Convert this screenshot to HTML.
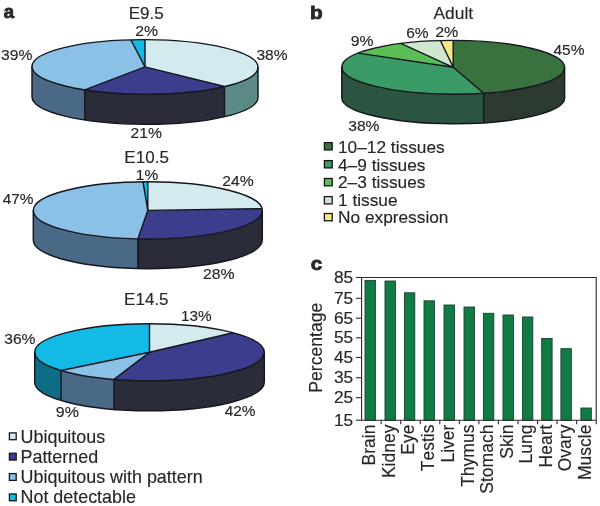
<!DOCTYPE html>
<html><head><meta charset="utf-8"><style>
html,body{margin:0;padding:0;background:#fff;}
svg{display:block;filter:blur(0.3px);}
text{font-family:"Liberation Sans", sans-serif;font-kerning:none;fill:#262626;stroke:#2a2a2a;stroke-width:0.15px;}
</style></head><body>
<svg width="600" height="506" viewBox="0 0 600 506">
<rect width="600" height="506" fill="#fff"/>
<text transform="translate(3.65 17.97) scale(1.0178 1)" font-size="18.17" font-weight="bold" style="stroke-width:0.88px">a</text>
<text transform="translate(128.7 18.84) scale(1.0339 1)" font-size="16.47">E9.5</text>
<g transform="matrix(1 0.00300 0 1 0 -0.43)"><path d="M258 66.9 A113 27.3 0 0 1 224.48 86.3 L224.48 116.5 A113 27.3 0 0 0 258 97.1Z" fill="#5b8a87"/>
<path d="M224.48 86.3 A113 27.3 0 0 1 84.78 90 L84.78 120.2 A113 27.3 0 0 0 224.48 116.5Z" fill="#2b2c3a"/>
<path d="M84.78 90 A113 27.3 0 0 1 32 66.9 L32 97.1 A113 27.3 0 0 0 84.78 120.2Z" fill="#4a6987"/>
<path d="M145 66.9 L145 39.6 A113 27.3 0 0 1 224.48 86.3Z" fill="#d3ebef"/>
<path d="M145 66.9 L224.48 86.3 A113 27.3 0 0 1 84.78 90Z" fill="#3c3d8d"/>
<path d="M145 66.9 L84.78 90 A113 27.3 0 0 1 130.84 39.82Z" fill="#8bc0e7"/>
<path d="M145 66.9 L130.84 39.82 A113 27.3 0 0 1 145 39.6Z" fill="#14bae6"/>
<g fill="none" stroke="#15161e" stroke-width="1.45" stroke-linejoin="round"><ellipse cx="145" cy="66.9" rx="113" ry="27.3"/><path d="M32 66.9 L32 97.1 A113 27.3 0 0 0 258 97.1 L258 66.9"/><line x1="145" y1="66.9" x2="145" y2="39.6"/><line x1="145" y1="66.9" x2="224.48" y2="86.3"/><line x1="224.48" y1="86.3" x2="224.48" y2="116.5"/><line x1="145" y1="66.9" x2="84.78" y2="90"/><line x1="84.78" y1="90" x2="84.78" y2="120.2"/><line x1="145" y1="66.9" x2="130.84" y2="39.82"/></g></g>
<text transform="translate(135.21 35.92) scale(1.0302 1)" font-size="15.3">2%</text>
<text transform="translate(256.42 59.55) scale(1.0243 1)" font-size="15.19">38%</text>
<text transform="translate(1.11 59.55) scale(1.0312 1)" font-size="15.19">39%</text>
<text transform="translate(130.47 138.12) scale(1.0237 1)" font-size="15.3">21%</text>
<text transform="translate(124.29 162.74) scale(1.0365 1)" font-size="16.47">E10.5</text>
<path d="M262.3 210.4 A114.5 28.6 0 0 1 137.82 238.89 L137.82 268.59 A114.5 28.6 0 0 0 262.3 240.1Z" fill="#2b2c3a"/>
<path d="M137.82 238.89 A114.5 28.6 0 0 1 33.3 210.4 L33.3 240.1 A114.5 28.6 0 0 0 137.82 268.59Z" fill="#4a6987"/>
<path d="M147.8 210.4 L147.8 181.8 A114.5 28.6 0 0 1 262.07 208.6Z" fill="#d3ebef"/>
<path d="M147.8 210.4 L262.07 208.6 A114.5 28.6 0 0 1 137.82 238.89Z" fill="#3c3d8d"/>
<path d="M147.8 210.4 L137.82 238.89 A114.5 28.6 0 0 1 143.01 181.83Z" fill="#8bc0e7"/>
<path d="M147.8 210.4 L143.01 181.83 A114.5 28.6 0 0 1 147.8 181.8Z" fill="#14bae6"/>
<g fill="none" stroke="#15161e" stroke-width="1.45" stroke-linejoin="round"><ellipse cx="147.8" cy="210.4" rx="114.5" ry="28.6"/><path d="M33.3 210.4 L33.3 240.1 A114.5 28.6 0 0 0 262.3 240.1 L262.3 210.4"/><line x1="147.8" y1="210.4" x2="147.8" y2="181.8"/><line x1="147.8" y1="210.4" x2="262.07" y2="208.6"/><line x1="147.8" y1="210.4" x2="137.82" y2="238.89"/><line x1="137.82" y1="238.89" x2="137.82" y2="268.59"/><line x1="147.8" y1="210.4" x2="143.01" y2="181.83"/></g>
<text transform="translate(135.84 179.62) scale(1.0067 1)" font-size="15.36">1%</text>
<text transform="translate(222.21 185.72) scale(1.0306 1)" font-size="15.3">24%</text>
<text transform="translate(2.65 203.62) scale(1.0057 1)" font-size="15.36">47%</text>
<text transform="translate(203.01 278.65) scale(1.0379 1)" font-size="15.19">28%</text>
<text transform="translate(124.1 305.43) scale(1.0195 1)" font-size="16.7">E14.5</text>
<path d="M264.3 352.3 A114.8 28.5 0 0 1 114.02 379.41 L114.02 409.41 A114.8 28.5 0 0 0 264.3 382.3Z" fill="#2b2c3a"/>
<path d="M114.02 379.41 A114.8 28.5 0 0 1 61.05 370.47 L61.05 400.47 A114.8 28.5 0 0 0 114.02 409.41Z" fill="#4a6987"/>
<path d="M61.05 370.47 A114.8 28.5 0 0 1 34.7 352.3 L34.7 382.3 A114.8 28.5 0 0 0 61.05 400.47Z" fill="#0d6d86"/>
<path d="M149.5 352.3 L149.5 323.8 A114.8 28.5 0 0 1 233.19 332.79Z" fill="#d3ebef"/>
<path d="M149.5 352.3 L233.19 332.79 A114.8 28.5 0 0 1 114.02 379.41Z" fill="#3c3d8d"/>
<path d="M149.5 352.3 L114.02 379.41 A114.8 28.5 0 0 1 61.05 370.47Z" fill="#8bc0e7"/>
<path d="M149.5 352.3 L61.05 370.47 A114.8 28.5 0 0 1 149.5 323.8Z" fill="#14bae6"/>
<g fill="none" stroke="#15161e" stroke-width="1.45" stroke-linejoin="round"><ellipse cx="149.5" cy="352.3" rx="114.8" ry="28.5"/><path d="M34.7 352.3 L34.7 382.3 A114.8 28.5 0 0 0 264.3 382.3 L264.3 352.3"/><line x1="149.5" y1="352.3" x2="149.5" y2="323.8"/><line x1="149.5" y1="352.3" x2="233.19" y2="332.79"/><line x1="149.5" y1="352.3" x2="114.02" y2="379.41"/><line x1="114.02" y1="379.41" x2="114.02" y2="409.41"/><line x1="149.5" y1="352.3" x2="61.05" y2="370.47"/><line x1="61.05" y1="370.47" x2="61.05" y2="400.47"/></g>
<text transform="translate(181.05 320.85) scale(1.0098 1)" font-size="15.19">13%</text>
<text transform="translate(4.21 344.35) scale(1.0312 1)" font-size="15.19">36%</text>
<text transform="translate(55.74 417.35) scale(1.0550 1)" font-size="15.19">9%</text>
<text transform="translate(224.65 415.72) scale(1.0092 1)" font-size="15.3">42%</text>
<rect x="9.4" y="432.9" width="6.8" height="6.8" fill="#d3ebef" stroke="#15161e" stroke-width="1.3"/>
<text x="20.61" y="443.4" font-size="17.9">Ubiquitous</text>
<rect x="9.4" y="453.25" width="6.8" height="6.8" fill="#3c3d8d" stroke="#15161e" stroke-width="1.3"/>
<text x="20.52" y="463.1" font-size="17.9">Patterned</text>
<rect x="9.4" y="473.6" width="6.8" height="6.8" fill="#8bc0e7" stroke="#15161e" stroke-width="1.3"/>
<text x="20.61" y="482.8" font-size="17.9">Ubiquitous with pattern</text>
<rect x="9.4" y="493.95" width="6.8" height="6.8" fill="#14bae6" stroke="#15161e" stroke-width="1.3"/>
<text x="20.52" y="502.5" font-size="17.9">Not detectable</text>
<text transform="translate(309.9 19.17) scale(1.1847 1)" font-size="17.55" font-weight="bold" style="stroke-width:0.76px">b</text>
<text x="433.46" y="19" font-size="17.4">Adult</text>
<g transform="matrix(1 0.00200 0 1 0 -0.91)"><path d="M564.6 67.3 A111.4 26.9 0 0 1 483.72 93.17 L483.72 122.81 A111.4 25.9 0 0 0 564.6 97.9Z" fill="#2c3a30"/>
<path d="M483.72 93.17 A111.4 26.9 0 0 1 341.8 67.3 L341.8 97.9 A111.4 25.9 0 0 0 483.72 122.81Z" fill="#2b5540"/>
<path d="M453.2 67.3 L453.2 40.4 A111.4 26.9 0 0 1 483.72 93.17Z" fill="#39723e"/>
<path d="M453.2 67.3 L483.72 93.17 A111.4 26.9 0 0 1 358.01 53.32Z" fill="#3a9b67"/>
<path d="M453.2 67.3 L358.01 53.32 A111.4 26.9 0 0 1 400.73 43.57Z" fill="#5cbc55"/>
<path d="M453.2 67.3 L400.73 43.57 A111.4 26.9 0 0 1 440.4 40.58Z" fill="#cfe7cc"/>
<path d="M453.2 67.3 L440.4 40.58 A111.4 26.9 0 0 1 453.2 40.4Z" fill="#f4e887"/>
<g fill="none" stroke="#15161e" stroke-width="1.45" stroke-linejoin="round"><ellipse cx="453.2" cy="67.3" rx="111.4" ry="26.9"/><path d="M341.8 67.3 L341.8 97.9 A111.4 25.9 0 0 0 564.6 97.9 L564.6 67.3"/><line x1="453.2" y1="67.3" x2="453.2" y2="40.4"/><line x1="453.2" y1="67.3" x2="483.72" y2="93.17"/><line x1="483.72" y1="93.17" x2="483.72" y2="122.81"/><line x1="453.2" y1="67.3" x2="358.01" y2="53.32"/><line x1="453.2" y1="67.3" x2="400.73" y2="43.57"/><line x1="453.2" y1="67.3" x2="440.4" y2="40.58"/></g></g>
<text transform="translate(435.2 36.92) scale(1.0494 1)" font-size="15.3">2%</text>
<text transform="translate(406.23 37.85) scale(1.0181 1)" font-size="15.19">6%</text>
<text transform="translate(350.85 45.85) scale(1.0356 1)" font-size="15.19">9%</text>
<text transform="translate(553.45 55.35) scale(1.0196 1)" font-size="15.25">45%</text>
<text transform="translate(348.21 131.35) scale(1.0312 1)" font-size="15.19">38%</text>
<rect x="324.4" y="142.6" width="7.8" height="7.3" fill="#39723e" stroke="#15161e" stroke-width="1.3"/>
<text x="338" y="153.4" font-size="17.3">10–12 tissues</text>
<rect x="324.4" y="160.6" width="7.8" height="7.3" fill="#3a9b67" stroke="#15161e" stroke-width="1.3"/>
<text x="338" y="170.9" font-size="17.3">4–9 tissues</text>
<rect x="324.4" y="178.5" width="7.8" height="7.3" fill="#5cbc55" stroke="#15161e" stroke-width="1.3"/>
<text x="338" y="188.4" font-size="17.3">2–3 tissues</text>
<rect x="324.4" y="196.6" width="7.8" height="7.3" fill="#cfe7cc" stroke="#15161e" stroke-width="1.3"/>
<text x="338" y="205.6" font-size="17.3">1 tissue</text>
<rect x="324.4" y="213.5" width="7.8" height="7.3" fill="#f4e887" stroke="#15161e" stroke-width="1.3"/>
<text x="338" y="222.7" font-size="17.3">No expression</text>
<text transform="translate(310.87 269.61) scale(1.0959 1)" font-size="18.9" font-weight="bold" style="stroke-width:0.82px">c</text>
<text x="333.89" y="282.8" font-size="17.3">85</text>
<text x="333.89" y="303.6" font-size="17.3">75</text>
<text x="333.89" y="323.5" font-size="17.3">65</text>
<text x="333.89" y="343.1" font-size="17.3">55</text>
<text x="333.89" y="362.8" font-size="17.3">45</text>
<text x="333.89" y="383" font-size="17.3">35</text>
<text x="333.89" y="403" font-size="17.3">25</text>
<text x="333.89" y="425.5" font-size="17.3">15</text>
<rect x="365" y="280.4" width="10.4" height="139.9" fill="#0e7c44" stroke="#1b3d2a" stroke-width="0.9"/>
<rect x="385" y="281" width="10.4" height="139.3" fill="#0e7c44" stroke="#1b3d2a" stroke-width="0.9"/>
<rect x="404.4" y="292.8" width="10.4" height="127.5" fill="#0e7c44" stroke="#1b3d2a" stroke-width="0.9"/>
<rect x="424" y="300.8" width="10.4" height="119.5" fill="#0e7c44" stroke="#1b3d2a" stroke-width="0.9"/>
<rect x="444" y="305" width="10.4" height="115.3" fill="#0e7c44" stroke="#1b3d2a" stroke-width="0.9"/>
<rect x="464" y="307" width="10.4" height="113.3" fill="#0e7c44" stroke="#1b3d2a" stroke-width="0.9"/>
<rect x="483.4" y="313.3" width="10.4" height="107" fill="#0e7c44" stroke="#1b3d2a" stroke-width="0.9"/>
<rect x="503" y="315" width="10.4" height="105.3" fill="#0e7c44" stroke="#1b3d2a" stroke-width="0.9"/>
<rect x="522.4" y="317" width="10.4" height="103.3" fill="#0e7c44" stroke="#1b3d2a" stroke-width="0.9"/>
<rect x="541.7" y="338.5" width="10.4" height="81.8" fill="#0e7c44" stroke="#1b3d2a" stroke-width="0.9"/>
<rect x="560.9" y="348.7" width="10.4" height="71.6" fill="#0e7c44" stroke="#1b3d2a" stroke-width="0.9"/>
<rect x="580.9" y="408" width="10.4" height="12.3" fill="#0e7c44" stroke="#1b3d2a" stroke-width="0.9"/>
<g fill="none" stroke="#2a2a2a" stroke-width="1.1"><path d="M361.6 277.5 H596.2 V420.3 H361.6 Z"/><line x1="356" y1="277.5" x2="361.6" y2="277.5"/><line x1="356" y1="298.3" x2="361.6" y2="298.3"/><line x1="356" y1="318.2" x2="361.6" y2="318.2"/><line x1="356" y1="337.8" x2="361.6" y2="337.8"/><line x1="356" y1="357.5" x2="361.6" y2="357.5"/><line x1="356" y1="377.7" x2="361.6" y2="377.7"/><line x1="356" y1="397.7" x2="361.6" y2="397.7"/><line x1="356" y1="420.2" x2="361.6" y2="420.2"/><line x1="381.15" y1="420.3" x2="381.15" y2="424.3"/><line x1="400.7" y1="420.3" x2="400.7" y2="424.3"/><line x1="420.25" y1="420.3" x2="420.25" y2="424.3"/><line x1="439.8" y1="420.3" x2="439.8" y2="424.3"/><line x1="459.35" y1="420.3" x2="459.35" y2="424.3"/><line x1="478.9" y1="420.3" x2="478.9" y2="424.3"/><line x1="498.45" y1="420.3" x2="498.45" y2="424.3"/><line x1="518" y1="420.3" x2="518" y2="424.3"/><line x1="537.55" y1="420.3" x2="537.55" y2="424.3"/><line x1="557.1" y1="420.3" x2="557.1" y2="424.3"/><line x1="576.65" y1="420.3" x2="576.65" y2="424.3"/><line x1="596.2" y1="420.3" x2="596.2" y2="424.3"/></g>
<text transform="translate(375 424.6) rotate(-90)" font-size="17.5" text-anchor="end">Brain</text>
<text transform="translate(395 424.6) rotate(-90)" font-size="17.5" text-anchor="end">Kidney</text>
<text transform="translate(414.4 424.6) rotate(-90)" font-size="17.5" text-anchor="end">Eye</text>
<text transform="translate(434 424.6) rotate(-90)" font-size="17.5" text-anchor="end">Testis</text>
<text transform="translate(454 424.6) rotate(-90)" font-size="17.5" text-anchor="end">Liver</text>
<text transform="translate(474 424.6) rotate(-90)" font-size="17.5" text-anchor="end">Thymus</text>
<text transform="translate(493.4 424.6) rotate(-90)" font-size="17.5" text-anchor="end">Stomach</text>
<text transform="translate(513 424.6) rotate(-90)" font-size="17.5" text-anchor="end">Skin</text>
<text transform="translate(532.4 424.6) rotate(-90)" font-size="17.5" text-anchor="end">Lung</text>
<text transform="translate(551.7 424.6) rotate(-90)" font-size="17.5" text-anchor="end">Heart</text>
<text transform="translate(570.9 424.6) rotate(-90)" font-size="17.5" text-anchor="end">Ovary</text>
<text transform="translate(590.9 424.6) rotate(-90)" font-size="17.5" text-anchor="end">Muscle</text>
<text transform="translate(321.7 392.75) rotate(-90)" font-size="17.6">Percentage</text>
</svg>
</body></html>
